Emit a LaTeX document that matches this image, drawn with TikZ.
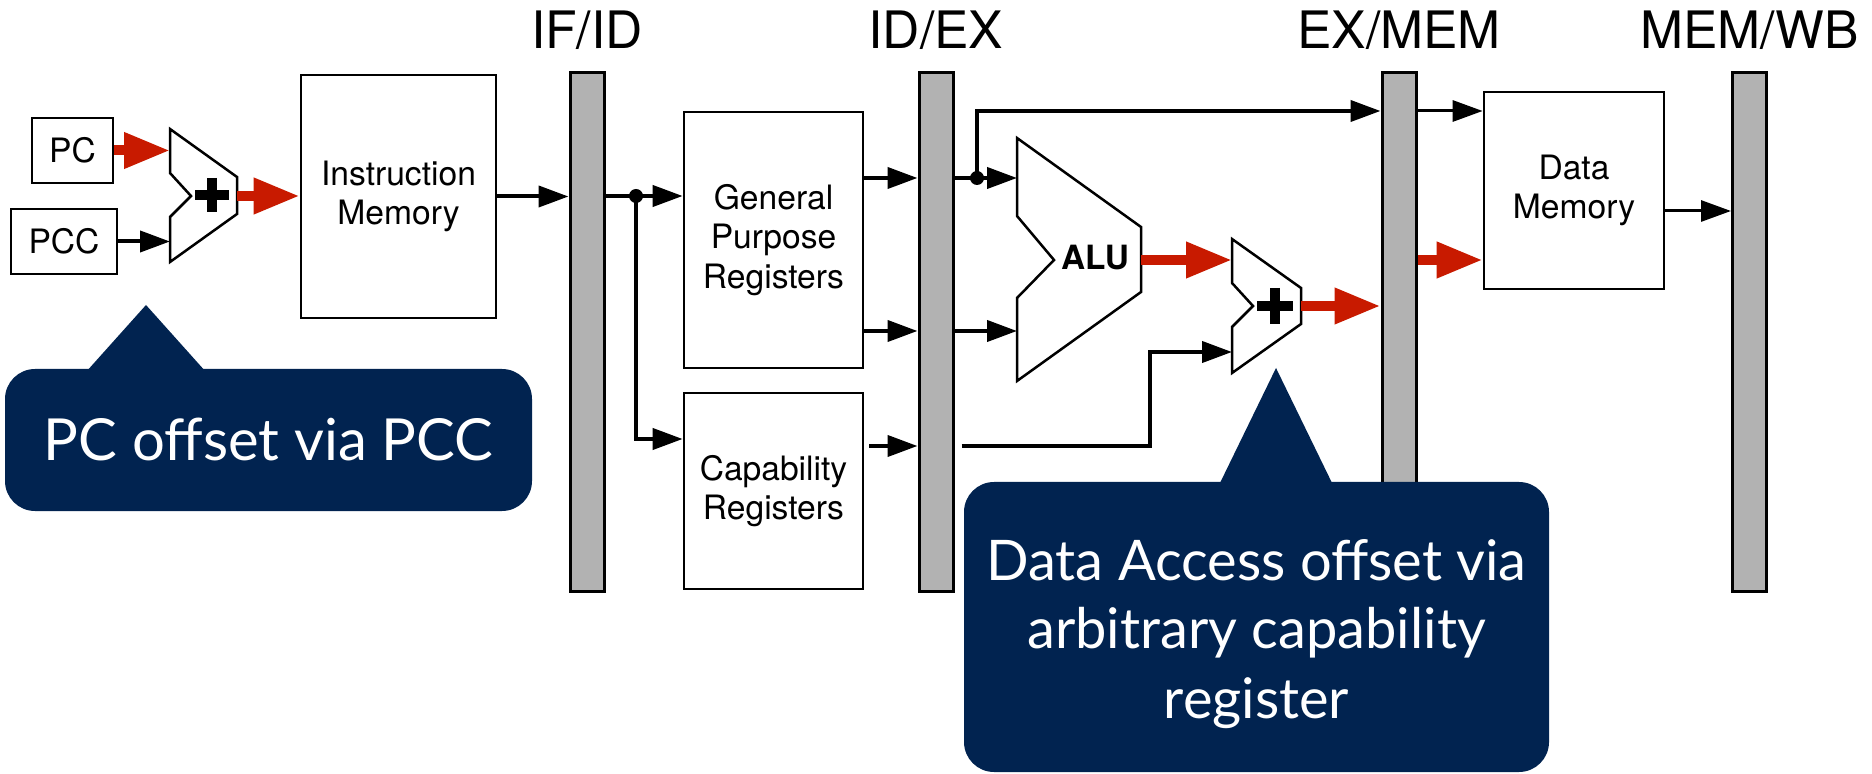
\documentclass[tikz,border=0pt]{standalone}
\usepackage{fontspec}
\setmainfont{TeX Gyre Heros}
\newfontfamily\callfont{Lato}
\usetikzlibrary{arrows.meta}

\definecolor{navy}{RGB}{1,35,80}
\definecolor{sigred}{RGB}{200,26,0}
\definecolor{latchgray}{RGB}{178,178,178}

\begin{document}
\begin{tikzpicture}[x=0.5pt,y=-0.5pt,
  box/.style={draw, line width=1.35pt, fill=white, inner sep=0pt, align=center,
    font=\fontsize{16.8}{19.6}\selectfont},
  latch/.style={draw, line width=1.5pt, fill=latchgray, minimum width=17pt,
    minimum height=259pt, inner sep=0pt},
  title/.style={anchor=base, inner sep=0pt, font=\fontsize{25.8}{30}\selectfont},
  unit/.style={draw, line width=1.25pt, fill=white, line join=miter},
  plus/.style={line width=5pt},
  wire/.style={line width=2pt, -{Triangle[length=15pt,width=10.5pt]}},
  thinwire/.style={line width=1.5pt, -{Triangle[length=15pt,width=10.5pt]}},
  bus/.style={draw=sigred, line width=5pt, -{Triangle[length=23pt,width=17pt]}},
  dot/.style={fill, circle, inner sep=0pt, minimum size=7pt},
  callbox/.style={fill=navy, rounded corners=15pt, inner sep=0pt},
  calltext/.style={anchor=base, inner sep=0pt, text=white},
]
\useasboundingbox (0,0) rectangle (1872,774);

% pipeline latches
\node[latch] (ifid)  at (587,332)  {};
\node[latch] (idex)  at (936,332)  {};
\node[latch] (exmem) at (1399,332) {};
\node[latch] (memwb) at (1749.5,332) {};

\node[title] (tifid)  at (587,49)  {IF/ID};
\node[title] (tidex)  at (936,49)  {ID/EX};
\node[title] (texmem) at (1399,49) {EX/MEM};
\node[title] (tmemwb) at (1749.5,49) {MEM/WB};

% storage blocks
\node[box, minimum width=40.5pt, minimum height=32.5pt] (pc)  at (72.5,150.5) {PC};
\node[box, minimum width=53pt,   minimum height=32.5pt] (pcc) at (64,241.5)   {PCC};
\node[box, minimum width=97.5pt, minimum height=121.5pt] (im) at (398.5,196.5) {Instruction\\Memory};
\node[box, minimum width=89.5pt, minimum height=128pt] (gpr) at (773.5,240) {General\\Purpose\\Registers};
\node[box, minimum width=89.5pt, minimum height=98pt] (cap) at (773.5,491) {Capability\\Registers};
\node[box, minimum width=90pt,   minimum height=98.5pt] (dm) at (1574,190.5) {Data\\Memory};

% PC adder
\draw[unit] (170,129) -- (237,177) -- (237,214) -- (170,262) -- (170,217)
  -- (191,196) -- (170,173) -- cycle;
\draw[plus] (195,195) -- (229,195) (212,178) -- (212,212);
\coordinate (addA-w) at (170,196);
\coordinate (addA-e) at (237,196);

% ALU
\draw[unit] (1017,138) -- (1141,227) -- (1141,292) -- (1017,381) -- (1017,298)
  -- (1054,260) -- (1017,216) -- cycle;
\node[inner sep=0pt, font=\bfseries\fontsize{16.7}{20}\selectfont] (alulbl) at (1095,258) {ALU};
\coordinate (alu-w) at (1017,260);
\coordinate (alu-e) at (1141,260);

% address adder
\draw[unit] (1232,239) -- (1301,288) -- (1301,324) -- (1232,373) -- (1232,327)
  -- (1253,306) -- (1232,283) -- cycle;
\draw[plus] (1257,306) -- (1293,306) (1275,288) -- (1275,324);
\coordinate (addB-w) at (1232,306);
\coordinate (addB-e) at (1301,306);

% fetch stage
\draw[bus]  (pc.east) -- (pc.east -| addA-w);
\draw[wire] (pcc.east) -- (pcc.east -| addA-w);
\draw[bus]  (addA-e) -- (addA-e -| im.west);
\draw[wire] (im.east) -- (im.east -| ifid.west);

% decode stage
\coordinate (split1) at (636,196);
\coordinate (capin) at ([yshift=26pt]cap.west);
\draw[wire] (ifid.east |- split1) -- (split1 -| gpr.west);
\draw[wire] (split1) -- (split1 |- capin) -- (capin);
\node[dot] (dot1) at (split1) {};

\coordinate (g1) at ([yshift=31pt]gpr.east);
\coordinate (g2) at ([yshift=-45.5pt]gpr.east);
\coordinate (c1) at ([yshift=22.5pt]cap.east);
\draw[wire] (g1) -- (g1 -| idex.west);
\draw[wire] (g2) -- (g2 -| idex.west);
\draw[wire] ([xshift=2.5pt]c1) -- (c1 -| idex.west);

% execute stage
\coordinate (split2) at (977,178);
\coordinate (fwd) at (977,111);
\draw[wire] (idex.east |- split2) -- (split2 -| alu-w);
\draw[wire] (split2) -- (fwd) -- (fwd -| exmem.west);
\node[dot] (dot2) at (split2) {};
\draw[wire] (idex.east |- g2) -- (g2 -| alu-w);

\coordinate (bend1) at (1150,446);
\coordinate (bend2) at (1150,352);
\draw[wire] ([xshift=3.5pt]idex.east |- c1) -- (bend1) -- (bend2) -- (bend2 -| addB-w);

\draw[bus] (alu-e) -- (alu-e -| addB-w);
\draw[bus] (addB-e) -- (addB-e -| exmem.west);

% memory stage
\coordinate (d1) at ([yshift=-10.25pt]dm.east);
\draw[thinwire] (exmem.east |- fwd) -- (fwd -| dm.west);
\draw[bus] (exmem.east |- alu-e) -- (alu-e -| dm.west);
\draw[thinwire] (d1) -- (d1 -| memwb.west);

% callouts
\node[callbox, minimum width=263.5pt, minimum height=71pt] (callA) at (268.5,440) {};
\fill[navy] (86,372) -- (146,305) -- (206,372) -- cycle;
\node[calltext, font=\callfont\fontsize{29}{34}\selectfont] (callAtxt) at (268.5,460) {PC offset via PCC};

\node[callbox, minimum width=292.5pt, minimum height=145pt] (callB) at (1256.5,627) {};
\fill[navy] (1219,485) -- (1276,368) -- (1333,485) -- cycle;
\node[calltext, font=\callfont\fontsize{28}{34}\selectfont] (callB1) at (1256.5,580) {Data Access offset via};
\node[calltext, font=\callfont\fontsize{28}{34}\selectfont] (callB2) at (1256.5,648) {arbitrary capability};
\node[calltext, font=\callfont\fontsize{28}{34}\selectfont] (callB3) at (1256.5,718) {register};
\end{tikzpicture}
\end{document}
